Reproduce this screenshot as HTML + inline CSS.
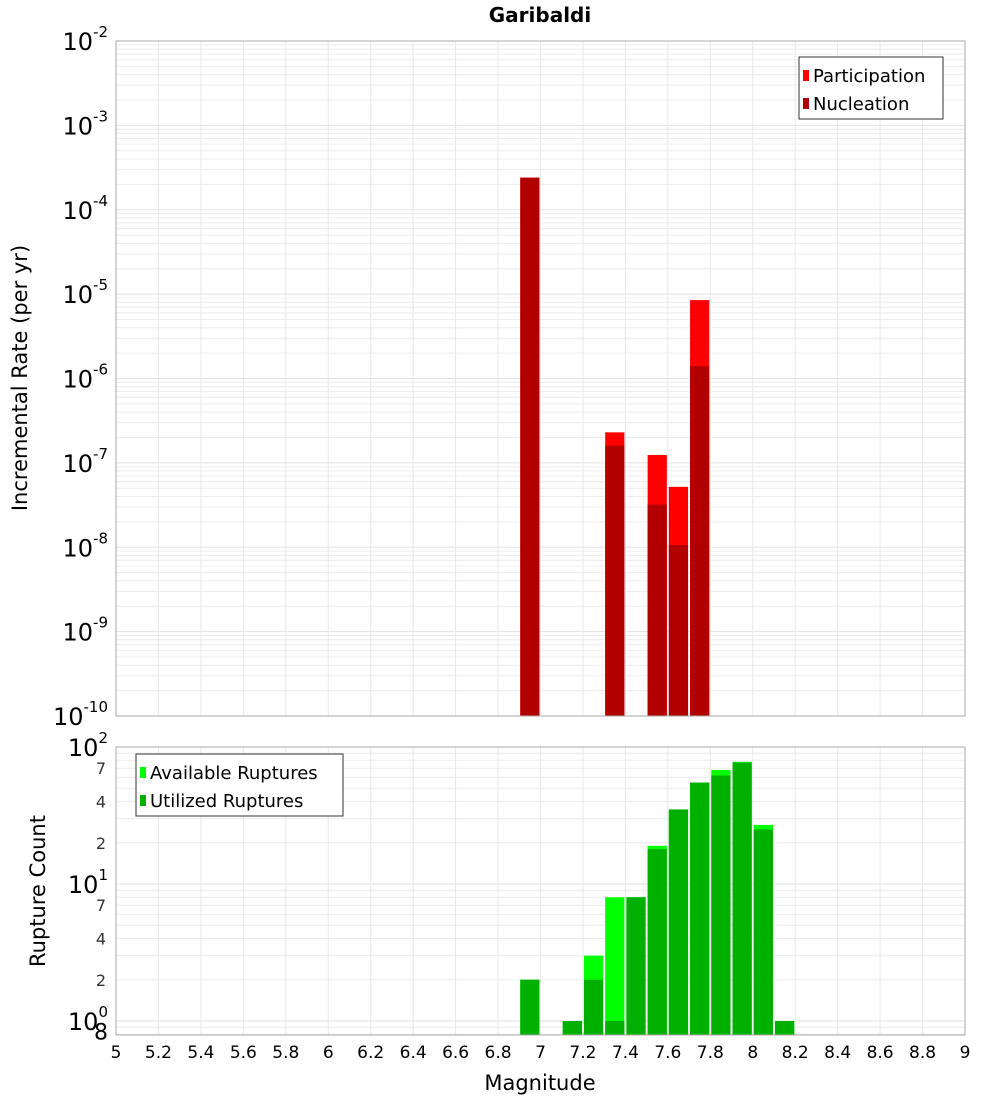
<!DOCTYPE html>
<html><head><meta charset="utf-8"><style>
body{margin:0;background:#fff;}
svg{display:block;font-family:"DejaVu Sans","Liberation Sans",sans-serif;}
</style></head><body>
<svg id="c" width="1000" height="1100">
<text x="540" y="22" text-anchor="middle" font-size="20" font-weight="bold">Garibaldi</text>
<text transform="translate(27,378) rotate(-90)" text-anchor="middle" font-size="21">Incremental Rate (per yr)</text>
<text transform="translate(45,891) rotate(-90)" text-anchor="middle" font-size="21">Rupture Count</text>
<text x="540" y="1090" text-anchor="middle" font-size="21">Magnitude</text>
<g id="gtop"></g><g id="gbot"></g>
</svg>
<script>
const NS="http://www.w3.org/2000/svg";
const magBins=[6.95,7.35,7.55,7.65,7.75];
const participation=[2.4e-4,2.3e-7,1.24e-7,5.2e-8,8.5e-6];
const nucleation=[2.4e-4,1.6e-7,3.2e-8,1.06e-8,1.4e-6];
const countBins=[6.95,7.15,7.25,7.35,7.45,7.55,7.65,7.75,7.85,7.95,8.05,8.15];
const available=[2,1,3,8,8,19,35,55,68,78,27,1];
const utilized=[2,1,2,1,8,18,35,55,62,77,25,1];
const xTicks=[5,5.2,5.4,5.6,5.8,6,6.2,6.4,6.6,6.8,7,7.2,7.4,7.6,7.8,8,8.2,8.4,8.6,8.8,9];
const L=116,R=965;
const X=m=>L+(m-5)/4*(R-L);
const TT=41,TB=716, YT=v=>TT+(-2-Math.log10(v))/8*(TB-TT);
const BT=747,BB=1035,DEC=137, YB=v=>BT+(2-Math.log10(v))*DEC;
function el(p,t,a){const e=document.createElementNS(NS,t);for(const k in a)e.setAttribute(k,a[k]);p.appendChild(e);return e;}
const gTop=document.getElementById('gtop'),gBot=document.getElementById('gbot');
function grid(g,yt,yb,yf,lo,hi){
  for(let d=lo;d<hi;d++)for(let k=1;k<10;k++){const y=yf(k*Math.pow(10,d));if(y<yt-0.5||y>yb)continue;
    const l=el(g,'line',{x1:L,x2:R,y1:y,y2:y,stroke:k==1?'#e2e2e2':'#ececec','stroke-width':1});
    
    }
  xTicks.forEach(m=>{const l=el(g,'line',{x1:X(m),x2:X(m),y1:yt,y2:yb,stroke:'#e8e8e8'});
    
    });
}
grid(gTop,TT,TB,YT,-10,-1);
grid(gBot,BT,BB,YB,-1,2);
function bar(g,m,v,yf,yb,fill,name){const x1=X(m-0.05)+1,x2=X(m+0.05)-1;const y=yf(v);
  const r=el(g,'rect',{x:x1,y:y,width:x2-x1,height:yb-y,fill:fill});
  
  }
magBins.forEach((m,i)=>bar(gTop,m,participation[i],YT,TB,'#ff0000','participation-bar'));
magBins.forEach((m,i)=>bar(gTop,m,nucleation[i],YT,TB,'#b20000','nucleation-bar'));
countBins.forEach((m,i)=>bar(gBot,m,available[i],YB,BB,'#00ff00','available-bar'));
countBins.forEach((m,i)=>bar(gBot,m,utilized[i],YB,BB,'#00b000','utilized-bar'));
[[gTop,TT,TB],[gBot,BT,BB]].forEach(([g,a,b])=>{const r=el(g,'rect',{x:L,y:a,width:R-L,height:b-a,fill:'none',stroke:'#aaa'});
  
  });
function pow(g,y,e,name){const t=el(g,'text',{x:108,y:y+9,'text-anchor':'end','font-size':24});
  
  
  t.textContent='10';const s=el(t,'tspan',{dy:-13,'font-size':15});s.textContent=e;}
for(let e=-2;e>=-10;e--)pow(gTop,YT(Math.pow(10,e)),String(e),'top-y-tick-label');
pow(gBot,YB(100),'2','bottom-y-tick-label');pow(gBot,YB(10),'1','bottom-y-tick-label');pow(gBot,YB(1),'0','bottom-y-tick-label');
[[7,70],[4,40],[2,20],[7,7],[4,4],[2,2],[8,0.8]].forEach(([lab,v])=>{const t=el(gBot,'text',{x:lab==8?108:106,y:YB(v)+(lab==8?5:6),'text-anchor':'end','font-size':lab==8?22:16,fill:lab==8?'#000':'#333'});
  
  
  t.textContent=lab;});
xTicks.forEach(m=>{const t=el(gBot,'text',{x:X(m),y:1058,'text-anchor':'middle','font-size':17});
  
  
  t.textContent=String(m);});
function legend(g,x,y,w,items){const b=el(g,'rect',{x:x,y:y,width:w,height:62,fill:'#fff',stroke:'#333'});
  
  
  items.forEach(([c,t],i)=>{const s=el(g,'rect',{x:x+4,y:y+13+i*28,width:6,height:11,fill:c});
    
    
    const tx=el(g,'text',{x:x+14,y:y+25+i*28,'font-size':18});tx.textContent=t;
    
    });}
legend(gTop,799,57,144,[['#ff0000','Participation'],['#b20000','Nucleation']]);
legend(gBot,136,754,207,[['#00ff00','Available Ruptures'],['#00b000','Utilized Ruptures']]);
</script>
</body></html>
